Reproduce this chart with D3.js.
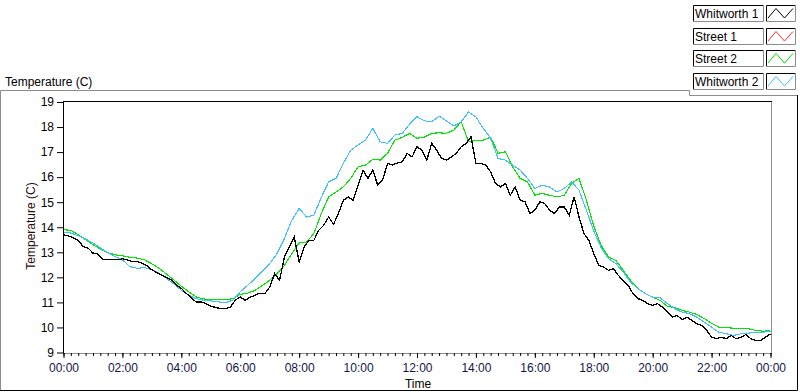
<!DOCTYPE html>
<html>
<head>
<meta charset="utf-8">
<script src="https://cdn.jsdelivr.net/npm/d3@7"></script>
<style>
  body { margin: 0; background: #fff; }
  svg text { font-family: "Liberation Sans", Arial, sans-serif; font-size: 12px; }
</style>
</head>
<body>
<svg id="chart" width="800" height="392"></svg>
<script>
// legend / series info
const seriesNames = ["Whitworth 1", "Street 1", "Street 2", "Whitworth 2"];
const seriesColors = ["#000000", "#ff3030", "#00e600", "#40bfff"];

// Whitworth 1, one reading every 10 minutes from 00:00
const whitworth1 = [
  13.70, 13.66, 13.57, 13.48, 13.23, 13.17, 12.97, 12.93, 12.70, 12.70, 12.70, 12.70,
  12.74, 12.70, 12.63, 12.63, 12.56, 12.46, 12.30, 12.19, 12.09, 12.00, 11.89, 11.69,
  11.56, 11.36, 11.19, 11.02, 11.02, 10.95, 10.85, 10.80, 10.75, 10.75, 10.82, 11.09,
  11.22,
  11.08, 11.21, 11.28, 11.37, 11.35, 11.61, 12.15, 11.88, 12.81, 13.21, 13.61, 12.61,
  13.21, 13.48, 13.48, 13.88, 14.08, 14.41, 14.12, 14.55, 15.08, 15.21, 15.08, 15.68,
  16.28, 15.95, 16.28, 15.68, 15.88, 16.55, 16.48, 16.57, 16.61, 16.95, 16.81, 17.21,
  17.08, 16.68, 17.35, 17.08, 16.75, 16.68, 16.81, 16.95, 17.21, 17.35, 17.61, 16.55,
  16.55, 16.48, 16.21, 15.75, 15.61, 15.75, 15.28, 15.61, 15.08, 15.01, 14.55, 14.68,
  15.01, 14.95, 14.68, 14.55, 14.81, 14.81, 14.48, 15.21, 14.41, 13.75, 13.48, 12.95,
  12.48, 12.41, 12.28, 12.35, 12.08, 11.88, 11.68, 11.35, 11.15, 11.08, 10.95, 10.88,
  10.95, 10.81, 10.61, 10.41, 10.48, 10.31, 10.41, 10.28, 10.15, 10.08, 9.88, 9.61,
  9.55, 9.61, 9.55, 9.68, 9.55, 9.61, 9.72, 9.55, 9.48, 9.48, 9.61, 9.75
];

// Street 1 shows no visible trace
const street1 = [];

// Street 2, one reading every 15 minutes from 00:00
const street2 = [
  13.90, 13.88, 13.70, 13.50, 13.30, 13.13, 12.99, 12.90, 12.86, 12.80, 12.77, 12.70,
  12.54, 12.36, 12.13, 11.89, 11.65, 11.42, 11.22, 11.14, 11.11, 11.11, 11.11, 11.15,
  11.32,
  11.37, 11.48, 11.68, 11.88, 12.15, 12.48, 12.95, 13.37, 13.41, 13.75, 14.55, 15.21,
  15.41, 15.61, 15.95, 16.41, 16.48, 16.71, 16.68, 16.95, 17.48, 17.59, 17.75, 17.55,
  17.60, 17.75, 17.77, 17.75, 17.88, 18.21, 17.41, 17.48, 17.48, 17.60, 16.95, 17.01,
  16.41, 15.95, 15.81, 15.28, 15.35, 15.28, 15.21, 15.28, 15.75, 15.95, 15.08, 14.05,
  13.28, 12.81, 12.68, 12.28, 11.88, 11.55, 11.35, 11.21, 11.08, 10.84, 10.79, 10.68,
  10.61, 10.52, 10.35, 10.17, 10.01, 9.99, 9.97, 9.95, 9.95, 9.88, 9.85, 9.88
];

// Whitworth 2, one reading every 15 minutes from 00:00
const whitworth2 = [
  13.81, 13.77, 13.66, 13.53, 13.37, 13.17, 12.99, 12.83, 12.70, 12.43, 12.36, 12.39,
  12.30, 12.16, 11.96, 11.73, 11.49, 11.29, 11.15, 11.09, 11.06, 11.02, 10.99, 11.09,
  11.42,
  11.68, 11.95, 12.25, 12.55, 12.95, 13.55, 14.28, 14.75, 14.41, 14.48, 15.19, 15.81,
  15.95, 16.55, 17.08, 17.28, 17.48, 17.95, 17.41, 17.35, 17.68, 17.75, 18.12, 18.41,
  18.25, 18.21, 18.44, 18.25, 18.04, 18.21, 18.60, 18.40, 17.95, 17.55, 16.75, 16.68,
  16.48, 16.28, 15.95, 15.55, 15.68, 15.61, 15.41, 15.55, 15.81, 15.48, 14.68, 13.85,
  13.19, 12.75, 12.55, 12.21, 11.81, 11.55, 11.35, 11.21, 11.19, 10.95, 10.75, 10.61,
  10.55, 10.41, 10.21, 10.01, 9.81, 9.75, 9.68, 9.75, 9.77, 9.81, 9.81, 9.85
];

const sampleMinutes = [10, 15, 15, 15];
const seriesValues = [whitworth1, street1, street2, whitworth2];

const yTicks = [9, 10, 11, 12, 13, 14, 15, 16, 17, 18, 19];
const xMajorMinutes = d3.range(0, 24 * 60 + 1, 120);
const xMinorMinutes = d3.range(0, 24 * 60 + 1, 15);

const svg = d3.select("#chart");

const plot = { left: 63, right: 771, top: 101, bottom: 353 };

const x = d3.scaleLinear().domain([0, 24 * 60]).range([plot.left + 0.5, plot.right - 0.5]);
const y = d3.scaleLinear().domain([9, 19]).range([352.5, 102]);

// outer frame (light top/left, dark right/bottom)
svg.append("path")
  .attr("d", "M0.5,391 V90.5 H689.5 V95.5 H797")
  .attr("fill", "none").attr("stroke", "#8c8c8c");
svg.append("path")
  .attr("d", "M797.5,95 V390.5 H0")
  .attr("fill", "none").attr("stroke", "#000");

// chart title
svg.append("text").attr("x", 5).attr("y", 86).text("Temperature (C)");

// plot background + frame
svg.append("rect")
  .attr("x", plot.left + 0.5).attr("y", plot.top + 0.5)
  .attr("width", plot.right - plot.left).attr("height", plot.bottom - plot.top)
  .attr("fill", "#fff").attr("stroke", "#8c8c8c");
svg.append("line")
  .attr("x1", plot.left).attr("x2", plot.right + 1)
  .attr("y1", plot.top + 0.5).attr("y2", plot.top + 0.5)
  .attr("stroke", "#000");

svg.append("clipPath").attr("id", "clip")
  .append("rect")
  .attr("x", plot.left + 1).attr("y", plot.top + 1)
  .attr("width", plot.right - plot.left - 1).attr("height", plot.bottom - plot.top - 1);

// y axis
const yAxis = svg.append("g")
  .attr("transform", `translate(${plot.left},0)`)
  .call(d3.axisLeft(y).tickValues(yTicks).tickSize(6).tickSizeOuter(0).tickPadding(3));
yAxis.select(".domain").attr("d", `M0.5,${plot.top} V${plot.bottom}`).attr("stroke", "#000");
yAxis.selectAll("text").attr("font-size", 12).attr("font-family", "Liberation Sans, Arial, sans-serif").attr("fill", "#000");

// x axis: minor ticks then major ticks with labels
const fmt = m => d3.format("02")((m / 60) % 24) + ":00";
svg.append("g")
  .attr("transform", `translate(0,${plot.bottom})`)
  .call(d3.axisBottom(x).tickValues(xMinorMinutes).tickSize(3).tickFormat(""))
  .call(g => g.select(".domain").remove());
const xAxis = svg.append("g")
  .attr("transform", `translate(0,${plot.bottom})`)
  .call(d3.axisBottom(x).tickValues(xMajorMinutes).tickSize(5).tickSizeOuter(0).tickPadding(5).tickFormat(fmt));
xAxis.select(".domain").remove();
xAxis.selectAll("text").attr("font-size", 12).attr("font-family", "Liberation Sans, Arial, sans-serif").attr("fill", "#14144a");

// axis titles
svg.append("text")
  .attr("transform", "translate(35,226) rotate(-90)")
  .attr("text-anchor", "middle")
  .attr("fill", "#2a0c0c")
  .text("Temperature (C)");
svg.append("text")
  .attr("x", 418).attr("y", 388)
  .attr("text-anchor", "middle")
  .text("Time");

// series lines (aliased, like the original waveform chart)
const lineGen = d3.line();
const drawOrder = [1, 2, 3, 0];
const linesG = svg.append("g").attr("clip-path", "url(#clip)");
drawOrder.forEach(i => {
  const pts = seriesValues[i].map((v, k) => [x(k * sampleMinutes[i]), y(v)]);
  if (!pts.length) return;
  linesG.append("path")
    .attr("d", lineGen(pts))
    .attr("fill", "none")
    .attr("stroke", seriesColors[i])
    .attr("stroke-width", i === 0 ? 1.3 : 1.1)
    .attr("shape-rendering", "crispEdges");
});

// legend panel
const legend = svg.append("g");
const rowTop = i => 5 + i * 22.67;
seriesNames.forEach((name, i) => {
  const t = Math.round(rowTop(i));
  const g = legend.append("g");
  // name box
  g.append("rect").attr("x", 693.5).attr("y", t + 0.5).attr("width", 70).attr("height", 16).attr("fill", "#fff");
  g.append("path").attr("d", `M693.5,${t + 17} V${t + 0.5} H764`).attr("fill", "none").attr("stroke", "#000");
  g.append("path").attr("d", `M763.5,${t} V${t + 16.5} H693`).attr("fill", "none").attr("stroke", "#8c8c8c");
  g.append("text").attr("x", 695).attr("y", t + 13).text(name);
  // plot icon box
  g.append("path").attr("d", `M766.5,${t + 17} V${t + 0.5} H796`).attr("fill", "none").attr("stroke", "#000");
  g.append("path").attr("d", `M795.5,${t} V${t + 16.5} H766`).attr("fill", "none").attr("stroke", "#8c8c8c");
  g.append("path")
    .attr("d", d3.line()([[768, t + 13], [776, t + 3.5], [784.5, t + 13], [793, t + 3.5]]))
    .attr("fill", "none").attr("stroke", seriesColors[i]).attr("stroke-width", 1);
});
</script>
</body>
</html>
